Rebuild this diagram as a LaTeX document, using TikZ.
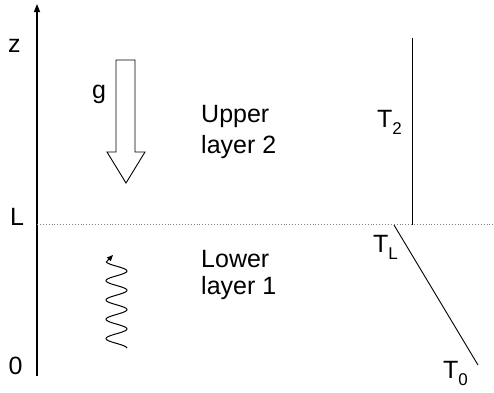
\documentclass[tikz,border=0pt]{standalone}
\usepackage{fontspec}
\setmainfont{Liberation Sans}
\usetikzlibrary{arrows.meta}
\begin{document}
\begin{tikzpicture}[x=1pt,y=-1pt,
  lbl/.style={inner sep=0pt,font=\fontsize{25}{27}\selectfont},
  thinline/.style={line width=0.9pt,black}]
\newcommand{\subtx}[1]{\raisebox{-7pt}{\fontsize{17}{17}\selectfont #1}}
\useasboundingbox (0,0) rectangle (494,392);
\coordinate (axb) at (37,376);
\coordinate (axt) at (37,4);
\draw[line width=1.4pt,-{Triangle[length=8pt,width=6pt]}] (axb) -- (axt);
\coordinate (dl) at (37,224.5);
\coordinate (dr) at (494,224.5);
\draw[gray,line width=0.9pt,dotted] (dl) -- (dr);
% hollow arrow g
\draw[thinline] (116,60) -- (135,60) -- (135,152) -- (145,152) -- (126,183) -- (107,152) -- (116,152) -- cycle;
% T2 vertical
\coordinate (t2t) at (412,38);
\coordinate (t2b) at (412,224.5);
\draw[thinline] (t2t) -- (t2b);
% diagonal
\coordinate (dtl) at (394,225);
\coordinate (dt0) at (478,365);
\draw[thinline] (dtl) -- (dt0);
% wave
\draw[line width=1pt,-{Triangle[length=6pt,width=5pt]}] plot[domain=77:-9,samples=120,smooth] ({116.5+10.5*cos(18.65*\x)},{271+\x}) -- (113,255);
% labels
\node[lbl,anchor=base west] (z) at (8,52) {z};
\node[lbl,anchor=base west] (L) at (10,225) {L};
\node[lbl,anchor=base west] (o) at (8.5,374) {0};
\node[lbl,anchor=base west] (g) at (92,98) {g};
\node[lbl,anchor=base west] (up1) at (201,122) {Upper};
\node[lbl,anchor=base west] (up2) at (201,153) {layer 2};
\node[lbl,anchor=base west] (lo1) at (201,267) {Lower};
\node[lbl,anchor=base west] (lo2) at (201,294) {layer 1};
\node[lbl,anchor=base west] (T2) at (377,127) {T\subtx{2}};
\node[lbl,anchor=base west] (TL) at (373,252) {T\subtx{L}};
\node[lbl,anchor=base west] (T0) at (443,378) {T\subtx{0}};
\end{tikzpicture}
\end{document}
